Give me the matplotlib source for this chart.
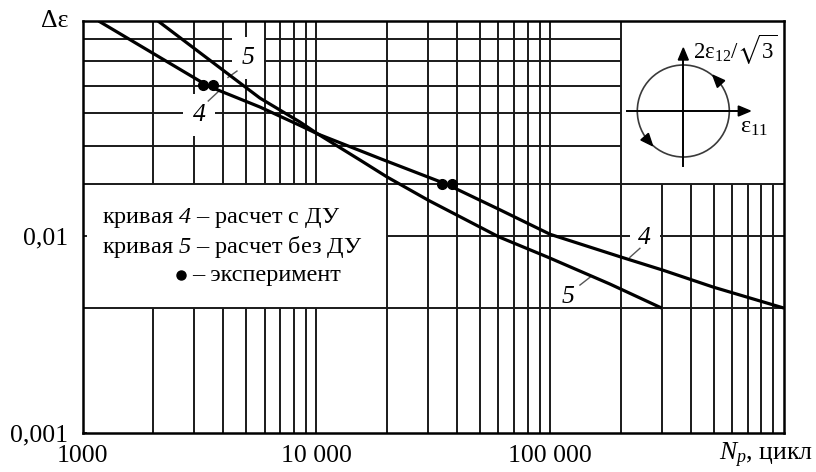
import matplotlib
matplotlib.use('Agg')
import matplotlib.pyplot as plt
from matplotlib.patches import Circle, Polygon
import numpy as np

plt.rcParams['font.family'] = ['Liberation Serif', 'DejaVu Serif']
plt.rcParams['mathtext.fontset'] = 'custom'
plt.rcParams['mathtext.rm'] = 'Liberation Serif'
plt.rcParams['mathtext.it'] = 'Liberation Serif:italic'
# mathtext keeps digits upright in \mathit, so the sf slot carries the italic face
plt.rcParams['mathtext.sf'] = 'Liberation Serif:italic'
plt.rcParams['mathtext.fallback'] = 'stix'

# Curve 4: calculation with ДУ
n4 = [1170, 3440, 5730, 8500, 10150, 19000, 35800, 60900, 100000, 202000, 304000, 498000, 1000000]
de4 = [0.124, 0.0579, 0.0453, 0.0365, 0.0330, 0.0246, 0.0184, 0.0136, 0.0102, 0.0078, 0.0067, 0.0055, 0.0043]

# Curve 5: calculation without ДУ
n5 = [2100, 5730, 8500, 10150, 15400, 20000, 30100, 60300, 97800, 180000, 300000]
de5 = [0.124, 0.0503, 0.0380, 0.0330, 0.0243, 0.0200, 0.0152, 0.0099, 0.0078, 0.0057, 0.0043]

# Experiment
exp_n = [3280, 3620, 34300, 37900]
exp_de = [0.0586, 0.0586, 0.0184, 0.0184]

x_ticks = [1000, 10000, 100000]
x_tick_labels = ['1000', '10 000', '100 000']
y_ticks = [0.001, 0.01]
y_tick_labels = ['0,001', '0,01']

# horizontal reference levels
h_upper = [0.1, 0.078, 0.058, 0.042, 0.0288]
h_full = [0.0183, 0.0043]
h_right = [0.01]

XMIN, XMAX = 1e3, 1e6
YMIN, YMAX = 1e-3, 0.124
LEG_X, INSET_X = 2e4, 2e5
LEG_Y0, LEG_Y1 = 0.0043, 0.0183

FS = 18.5

fig = plt.figure(figsize=(8.16, 4.72), dpi=100)
ax = fig.add_axes([0.1013, 0.0833, 0.8595, 0.8722])
ax.set_xscale('log')
ax.set_yscale('log')
ax.set_xlim(XMIN, XMAX)
ax.set_ylim(YMIN, YMAX)

gc = '#1a1a1a'
glw = 1.4

# vertical grid
xs = [k * 10 ** e for e in (3, 4, 5) for k in range(1, 10)]
for x in xs:
    if x <= XMIN:
        continue
    if x < LEG_X:
        ax.vlines(x, YMIN, LEG_Y0, color=gc, lw=glw, zorder=1)
        ax.vlines(x, LEG_Y1, YMAX, color=gc, lw=glw, zorder=1)
    elif x <= INSET_X:
        ax.vlines(x, YMIN, YMAX, color=gc, lw=glw, zorder=1)
    else:
        ax.vlines(x, YMIN, LEG_Y1, color=gc, lw=glw, zorder=1)

for y in h_upper:
    ax.hlines(y, XMIN, INSET_X, color=gc, lw=glw, zorder=1)
for y in h_full:
    ax.hlines(y, XMIN, XMAX, color=gc, lw=glw, zorder=1)
for y in h_right:
    ax.hlines(y, LEG_X, XMAX, color=gc, lw=glw, zorder=1)

ax.plot(n4, de4, color='black', lw=2.3, zorder=4, solid_capstyle='butt')
ax.plot(n5, de5, color='black', lw=2.3, zorder=4, solid_capstyle='butt')
ax.plot(exp_n, exp_de, 'o', color='black', ms=7, zorder=5)

# curve labels with leaders
lab = dict(fontsize=FS, fontstyle='italic', ha='center', va='center', zorder=3)
ax.text(3144, 0.0412, '4', bbox=dict(facecolor='white', edgecolor='none', pad=7), **lab)
ax.text(5093, 0.0804, '5', bbox=dict(facecolor='white', edgecolor='none', pad=7), **lab)
ax.text(254000, 0.00977, '4', bbox=dict(facecolor='white', edgecolor='none', pad=6), **lab)
ax.text(119000, 0.0049, '5', **lab)
ld = dict(color='#555555', lw=1.0, zorder=3.5)
ax.plot([3445, 3802], [0.0486, 0.0542], **ld)
ax.plot([4571, 4183], [0.0690, 0.0640], **ld)
ax.plot([219000, 241900], [0.00779, 0.00866], **ld)
ax.plot([134000, 147900], [0.00563, 0.00617], **ld)

for s in ax.spines.values():
    s.set_linewidth(1.8)
    s.set_color('black')
    s.set_zorder(6)

ax.set_xticks(x_ticks)
ax.set_xticklabels(x_tick_labels, fontsize=FS)
ax.set_yticks(y_ticks)
ax.set_yticklabels(y_tick_labels, fontsize=FS)
ax.xaxis.set_minor_locator(matplotlib.ticker.NullLocator())
ax.yaxis.set_minor_locator(matplotlib.ticker.NullLocator())
ax.tick_params(axis='x', length=0, pad=9)
ax.tick_params(axis='y', direction='in', length=3, width=1.2, pad=10.5)

ax.text(-0.02, 1.0, 'Δε', transform=ax.transAxes, fontsize=FS, ha='right', va='center')
fig.text(813 / 816, 1 - 455 / 472, r'$N_p$, цикл', fontsize=FS, ha='right', va='center')

# legend block
ltxt = dict(fontsize=17.5, ha='left', va='center', zorder=3)
ax.text(1206, 0.0123, r'кривая $\mathsf{4}$ – расчет с ДУ', **ltxt)
ax.text(1206, 0.00876, r'кривая $\mathsf{5}$ – расчет без ДУ', **ltxt)
ax.plot([2633], [0.00633], 'o', color='black', ms=6.5, zorder=5)
ax.text(2935, 0.00633, '– эксперимент', **ltxt)

# loading path sketch
fw, fh = 816, 472
cx, cy, size = 683.3, 111, 150
ins = fig.add_axes([(cx - size / 2) / fw, 1 - (cy + size / 2) / fh, size / fw, size / fh])
ins.set_xlim(-75, 75)
ins.set_ylim(-75, 75)
ins.set_axis_off()
ins.patch.set_alpha(0)
R = 46
ins.add_patch(Circle((0, 0), R, fill=False, lw=1.2, ec='#3a3a3a'))
ins.plot([-56, 56], [0, 0], color='black', lw=1.4)
ins.plot([0, 0], [-55, 52], color='black', lw=1.4)
ins.add_patch(Polygon([[67, 0], [55, 5], [55, -5]], closed=True, fc='black', ec='black'))
ins.add_patch(Polygon([[0, 63], [-5, 51], [5, 51]], closed=True, fc='black', ec='black'))


def circ_arrow(theta_deg):
    t = np.radians(theta_deg)
    p = np.array([R * np.cos(t), R * np.sin(t)])
    d = np.array([-np.sin(t), np.cos(t)])
    nrm = np.array([np.cos(t), np.sin(t)])
    tip = p + d * 6
    b1 = p - d * 6 + nrm * 5
    b2 = p - d * 6 - nrm * 5
    ins.add_patch(Polygon([tip, b1, b2], closed=True, fc='black', ec='black'))


circ_arrow(43)
circ_arrow(221)
ins.text(10, 61, r'$2\mathrm{ε}_{12}/\sqrt{3}$', fontsize=16.5, ha='left', va='center')
ins.text(57, -17, r'$\mathrm{ε}_{11}$', fontsize=17.5, ha='left', va='center')

fig.savefig('out.png', dpi=100, facecolor='white')
